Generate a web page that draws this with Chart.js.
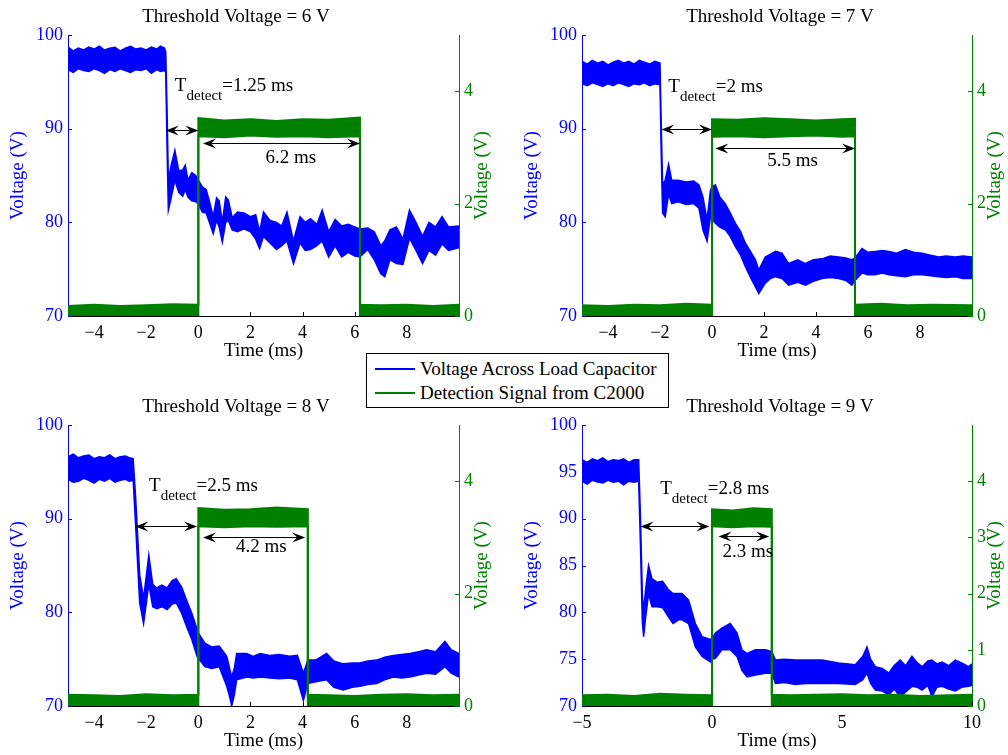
<!DOCTYPE html>
<html>
<head>
<meta charset="utf-8">
<script src="https://cdn.jsdelivr.net/npm/chart.js@4.4.0/dist/chart.umd.min.js"></script>
<style>
  body { margin: 0; background: #fff; overflow: hidden; }
  #fig { position: relative; width: 1008px; height: 755px; font-family: "Liberation Serif", "Times New Roman", serif; }
  #fig canvas { position: absolute; }
  .legend { position: absolute; left: 366px; top: 353px; width: 303px; height: 55px; box-sizing: border-box;
            border: 1px solid #000; background: #fff; z-index: 2; font-size: 19px; color: #000; }
  .legend .ln { position: absolute; left: 8px; width: 40px; height: 0; border-top: 2px solid; }
  .legend .tx { position: absolute; left: 53px; white-space: nowrap; line-height: 19px; }
</style>
</head>
<body>
<div id="fig">
  <canvas id="p1" width="504" height="390" style="left:0;top:0"></canvas>
  <canvas id="p2" width="504" height="390" style="left:504px;top:0"></canvas>
  <canvas id="p3" width="504" height="390" style="left:0;top:390px"></canvas>
  <canvas id="p4" width="504" height="390" style="left:504px;top:390px"></canvas>
  <div class="legend">
    <div class="ln" style="top:14px;border-color:#0000ff"></div>
    <div class="tx" style="top:5px">Voltage Across Load Capacitor</div>
    <div class="ln" style="top:38px;border-color:#008000"></div>
    <div class="tx" style="top:29px">Detection Signal from C2000</div>
  </div>
</div>
<script>
const BLUE = '#0000ff';
const GREEN = '#008000';
const FONT = '"Liberation Serif", "Times New Roman", serif';

// tick values
const xTicksEven = [-4, -2, 0, 2, 4, 6, 8];
const xTicksFive = [-5, 0, 5, 10];
const leftTicksTen = [70, 80, 90, 100];
const leftTicksFive = [70, 75, 80, 85, 90, 95, 100];
const rightTicksTwo = [0, 2, 4];
const rightTicksOne = [0, 1, 2, 3, 4];

// threshold 6 V : capacitor voltage band (upper / lower edge of the noisy trace)
const p1Time = [-5, -4.8, -4.6, -4.4, -4.2, -4.0, -3.8, -3.6, -3.4, -3.2, -3.0, -2.8, -2.6, -2.4, -2.2, -2.0, -1.8, -1.6, -1.45, -1.3,
  -1.25, -1.2, -1.15, -1.05, -0.9, -0.75, -0.6, -0.5, -0.4, -0.25, -0.1, 0,
  0.15, 0.3, 0.45, 0.57, 0.7, 0.8, 0.92, 1.05, 1.15, 1.3,
  1.5, 1.75, 2.0, 2.2, 2.35, 2.5, 2.75, 3.0, 3.2, 3.4,
  3.65, 3.9, 4.1, 4.3, 4.55, 4.75, 5.0, 5.25, 5.5, 5.75,
  6.0, 6.2, 6.5, 6.75, 7.0, 7.15, 7.35, 7.6, 7.85, 8.1,
  8.35, 8.6, 8.85, 9.1, 9.35, 9.6, 10];
const p1High = [98.7, 98.3, 98.6, 98.4, 98.7, 98.5, 98.8, 98.4, 98.6, 98.7, 98.3, 98.6, 98.8, 98.5, 98.6, 98.4, 98.7, 98.5, 98.8, 98.6,
  98.2, 92.0, 84.5, 86.0, 87.7, 85.5, 85.6, 86.1, 84.5, 85.3, 85.0, 84.5,
  83.8, 83.5, 82.0, 80.6, 82.6, 82.3, 80.0, 82.7, 82.4, 80.5,
  81.1, 81.0, 80.6, 80.8, 79.0, 81.1, 80.2, 80.0, 79.6, 81.1,
  78.0, 80.6, 80.0, 80.4, 79.8, 81.3, 79.0, 80.3, 79.6, 79.8,
  79.5, 79.3, 79.4, 79.0, 77.5, 78.0, 79.2, 79.5, 78.2, 81.3,
  80.0, 78.5, 80.0, 79.5, 80.6, 79.5, 79.6];
const p1Low = [96.3, 96.0, 96.4, 96.2, 96.1, 96.4, 96.2, 95.9, 96.3, 96.1, 96.4, 96.2, 96.0, 96.3, 96.2, 96.4, 95.9, 96.3, 96.1, 96.2,
  96.0, 88.0, 81.3, 82.5, 84.5, 83.2, 82.8, 83.5, 82.7, 82.3, 82.2, 82.0,
  81.1, 81.0, 79.8, 78.8, 80.2, 79.5, 77.9, 80.0, 80.2, 79.2,
  79.0, 79.3, 79.0, 78.2, 77.2, 78.5, 77.8, 77.1, 77.5, 78.0,
  75.6, 77.8, 77.0, 77.1, 77.5, 78.0, 76.3, 77.5, 76.3, 76.8,
  76.4, 76.3, 77.1, 76.0, 74.5, 74.2, 76.0, 75.6, 75.5, 78.3,
  77.0, 75.6, 77.0, 76.5, 77.7, 77.0, 77.3];
// detection signal band
const p1GreenTime = [-5, -4, -3, -2, -1, 0, 0, 1, 2, 3, 4, 5, 6.2, 6.2, 7, 8, 9, 10];
const p1GreenHigh = [0.18, 0.2, 0.18, 0.19, 0.21, 0.2, 3.52, 3.48, 3.5, 3.47, 3.5, 3.49, 3.53, 0.2, 0.19, 0.2, 0.18, 0.2];
const p1GreenLow = [0, 0, 0, 0, 0, 0, 3.2, 3.18, 3.21, 3.19, 3.2, 3.18, 3.2, 0, 0, 0, 0, 0];

// threshold 7 V
const p2Time = [-5, -4.8, -4.6, -4.4, -4.2, -4.0, -3.8, -3.6, -3.4, -3.2, -3.0, -2.8, -2.6, -2.4, -2.2,
  -2.0, -1.95, -1.9, -1.8, -1.67, -1.55, -1.3, -1.0, -0.7, -0.5, -0.35, -0.19, -0.06, 0,
  0.13, 0.3, 0.51, 0.7, 0.9, 1.1, 1.28, 1.5, 1.67, 1.8,
  2.05, 2.25, 2.44, 2.69, 2.95, 3.3, 3.59, 3.9, 4.23, 4.55,
  4.87, 5.15, 5.38, 5.5, 5.77, 6.0, 6.28, 6.55, 6.8, 7.1,
  7.44, 7.75, 8.08, 8.4, 8.72, 9.0, 9.36, 9.65, 10];
const p2High = [97.2, 96.9, 97.3, 97.0, 97.2, 96.8, 97.1, 97.3, 97.0, 97.2, 96.9, 97.3, 97.1, 96.9, 97.2,
  97.0, 90.0, 84.0, 84.5, 86.2, 84.5, 84.5, 84.3, 84.4, 84.0, 82.7, 80.3, 83.4, 83.8,
  84.0, 82.7, 82.0, 81.0, 79.9, 79.0, 77.8, 76.8, 76.0, 74.9,
  76.3, 76.6, 76.9, 76.7, 75.6, 76.0, 75.6, 76.0, 76.1, 76.4,
  76.3, 76.2, 76.0, 76.2, 77.2, 76.8, 76.9, 77.0, 76.9, 76.7,
  77.1, 76.8, 76.7, 76.5, 76.3, 76.4, 76.3, 76.4, 76.3];
const p2Low = [94.8, 94.6, 94.9, 94.7, 94.5, 94.8, 94.6, 94.9, 94.7, 94.5, 94.8, 94.7, 94.9, 94.6, 94.8,
  94.7, 87.0, 81.0, 80.6, 83.0, 82.0, 82.2, 81.9, 82.0, 81.5, 79.2, 78.0, 80.6, 80.3,
  79.9, 79.5, 79.2, 78.5, 77.4, 76.5, 75.3, 74.0, 73.1, 72.4,
  73.5, 74.0, 74.2, 74.0, 73.3, 73.6, 73.3, 73.7, 74.0, 74.1,
  74.0, 73.8, 73.3, 73.8, 74.6, 74.4, 74.4, 74.6, 74.4, 74.3,
  74.2, 74.4, 74.4, 74.3, 74.2, 74.1, 74.2, 74.0, 74.0];
const p2GreenTime = [-5, -4, -3, -2, -1, 0, 0, 1, 2, 3, 4, 5, 5.5, 5.5, 6.5, 7.5, 8.5, 10];
const p2GreenHigh = [0.19, 0.18, 0.2, 0.19, 0.22, 0.2, 3.5, 3.49, 3.52, 3.5, 3.48, 3.5, 3.51, 0.2, 0.22, 0.19, 0.2, 0.19];
const p2GreenLow = [0, 0, 0, 0, 0, 0, 3.19, 3.2, 3.18, 3.2, 3.21, 3.19, 3.2, 0, 0, 0, 0, 0];

// threshold 8 V
const p3Time = [-5, -4.8, -4.6, -4.4, -4.2, -4.0, -3.8, -3.6, -3.4, -3.2, -3.0, -2.8, -2.65,
  -2.5, -2.4, -2.25, -2.1, -1.9, -1.75, -1.6, -1.4, -1.2, -1.0, -0.85, -0.64, -0.45, -0.25, -0.05, 0,
  0.25, 0.51, 0.8, 1.09, 1.2, 1.28, 1.38, 1.47, 1.86, 2.1,
  2.37, 2.75, 3.1, 3.5, 3.8, 4.03, 4.2, 4.5, 4.92, 5.2,
  5.56, 5.9, 6.2, 6.5, 6.84, 7.15, 7.48, 7.8, 8.12, 8.45,
  8.76, 9.1, 9.46, 9.7, 10];
const p3High = [96.6, 96.9, 96.5, 96.7, 96.8, 96.4, 96.6, 96.5, 96.8, 96.4, 96.6, 96.7, 96.5,
  96.4, 92.0, 84.0, 81.5, 86.1, 83.0, 82.6, 82.9, 82.6, 83.4, 83.6, 82.7, 81.3, 79.9, 78.2, 77.8,
  76.7, 76.3, 76.4, 75.3, 74.0, 73.1, 74.0, 75.6, 75.6, 75.3,
  75.6, 75.4, 75.5, 75.3, 75.4, 73.5, 74.9, 74.9, 75.6, 74.8,
  74.5, 74.6, 74.6, 74.8, 74.9, 75.2, 75.4, 75.5, 75.6, 75.8,
  76.0, 75.8, 76.9, 76.0, 75.6];
const p3Low = [94.2, 93.9, 94.0, 94.3, 94.1, 93.8, 94.2, 94.0, 94.3, 93.9, 94.1, 94.2, 94.0,
  94.1, 89.0, 81.0, 78.8, 83.0, 80.6, 80.4, 80.6, 80.3, 80.9, 81.0, 79.9, 78.5, 77.1, 75.3, 75.1,
  74.2, 74.0, 74.2, 72.1, 71.0, 70.0, 71.2, 72.8, 73.1, 73.0,
  73.1, 73.0, 72.9, 73.0, 72.8, 70.6, 72.4, 72.6, 72.8, 72.0,
  71.7, 72.0, 72.1, 72.3, 72.4, 72.8, 73.1, 73.0, 73.1, 73.3,
  73.5, 73.4, 74.2, 73.5, 73.1];
const p3GreenTime = [-5, -4, -3, -2, -1, 0, 0, 1, 2, 3, 4.2, 4.2, 5, 6, 7, 8, 9, 10];
const p3GreenHigh = [0.2, 0.19, 0.18, 0.21, 0.19, 0.2, 3.52, 3.49, 3.5, 3.53, 3.5, 0.2, 0.19, 0.18, 0.2, 0.21, 0.19, 0.2];
const p3GreenLow = [0, 0, 0, 0, 0, 0, 3.2, 3.18, 3.2, 3.19, 3.2, 0, 0, 0, 0, 0, 0, 0];

// threshold 9 V
const p4Time = [-5, -4.8, -4.6, -4.4, -4.2, -4.0, -3.8, -3.6, -3.4, -3.2, -3.0,
  -2.82, -2.75, -2.68, -2.63, -2.55, -2.44, -2.31, -2.1, -1.9, -1.67, -1.5, -1.28, -1.15, -0.9, -0.64, -0.38, -0.06, 0,
  0.13, 0.38, 0.7, 0.96, 1.15, 1.35, 1.67, 2.05, 2.3, 2.44,
  2.8, 3.2, 3.59, 4.23, 4.87, 5.51, 5.8, 5.96, 6.1, 6.28,
  6.55, 6.8, 7.0, 7.24, 7.45, 7.69, 7.9, 8.08, 8.3, 8.46,
  8.65, 8.85, 9.1, 9.36, 9.6, 9.87, 10];
const p4High = [96.3, 96.0, 96.4, 96.2, 96.5, 96.1, 96.3, 96.2, 96.4, 96.0, 96.3,
  96.3, 90.0, 82.0, 80.0, 82.5, 85.0, 83.6, 83.2, 83.3, 82.4, 82.0, 82.0, 82.0, 81.3, 78.8, 77.4, 77.1, 77.2,
  77.8, 78.3, 78.8, 77.8, 76.0, 75.6, 76.0, 76.0, 75.8, 74.9,
  75.0, 74.9, 74.9, 74.9, 74.6, 74.4, 75.3, 76.3, 75.0, 74.2,
  74.0, 73.5, 74.3, 74.9, 74.3, 75.3, 74.6, 74.2, 74.8, 74.9,
  74.5, 74.7, 74.3, 74.9, 74.6, 74.2, 74.5];
const p4Low = [94.0, 93.7, 94.1, 93.9, 93.8, 94.1, 93.9, 94.0, 93.6, 94.0, 93.9,
  94.0, 87.0, 79.0, 77.4, 79.5, 82.0, 80.6, 80.6, 80.5, 79.5, 78.8, 79.2, 79.2, 78.8, 76.3, 75.3, 74.7, 75.0,
  75.1, 76.0, 76.0, 75.3, 73.8, 73.1, 73.3, 73.5, 73.5, 72.4,
  72.5, 72.3, 72.4, 72.4, 72.4, 72.3, 72.8, 73.5, 72.4, 71.7,
  71.6, 71.2, 71.8, 71.0, 71.5, 72.1, 72.0, 71.7, 72.2, 71.0,
  72.0, 72.1, 71.8, 71.6, 72.0, 72.1, 72.2];
const p4GreenTime = [-5, -4, -3, -2, -1, 0, 0, 0.8, 1.6, 2.3, 2.3, 3, 4, 5, 6, 7, 8, 10];
const p4GreenHigh = [0.19, 0.2, 0.18, 0.22, 0.2, 0.19, 3.5, 3.48, 3.52, 3.5, 0.2, 0.19, 0.2, 0.21, 0.19, 0.2, 0.18, 0.2];
const p4GreenLow = [0, 0, 0, 0, 0, 0, 3.2, 3.18, 3.2, 3.19, 0, 0, 0, 0, 0, 0, 0, 0];

function xy(ts, vs) {
      return ts.map((t, i) => ({x: t, y: vs[i]}));
}

function minus(v) {
      return String(v).replace('-', '\u2212');
}

function band(ts, vs, color, axis, fill, width) {
      return {
            data: xy(ts, vs), yAxisID: axis, borderColor: color, backgroundColor: color,
            borderWidth: width, pointRadius: 0, tension: 0, fill: fill
      };
}

// double headed arrow with notched heads
function arrow(ctx, x1, x2, y) {
      ctx.strokeStyle = '#000';
      ctx.fillStyle = '#000';
      ctx.lineWidth = 1;
      ctx.beginPath();
      ctx.moveTo(x1 + 6, y);
      ctx.lineTo(x2 - 6, y);
      ctx.stroke();
      [[x1, 1], [x2, -1]].forEach(([x, d]) => {
            ctx.beginPath();
            ctx.moveTo(x, y);
            ctx.lineTo(x + d * 13, y - 5);
            ctx.lineTo(x + d * 8, y);
            ctx.lineTo(x + d * 13, y + 5);
            ctx.closePath();
            ctx.fill();
      });
}

const decor = {
      id: 'decor',
      beforeDatasetsDraw(chart, args, o) {
            const {ctx, chartArea: a, scales} = chart;
            ctx.save();
            ctx.lineWidth = 1;
            const tick = (x1, y1, x2, y2, c) => {
                  ctx.strokeStyle = c;
                  ctx.beginPath(); ctx.moveTo(x1, y1); ctx.lineTo(x2, y2); ctx.stroke();
            };
            scales.x.ticks.forEach(t => {
                  const x = Math.round(scales.x.getPixelForValue(t.value)) + 0.5;
                  tick(x, a.bottom, x, a.bottom - 4, '#000');
            });
            scales.yL.ticks.forEach(t => {
                  const y = Math.round(scales.yL.getPixelForValue(t.value)) + 0.5;
                  tick(a.left, y, a.left + 4, y, BLUE);
            });
            scales.yR.ticks.forEach(t => {
                  const y = Math.round(scales.yR.getPixelForValue(t.value)) + 0.5;
                  tick(a.right, y, a.right - 4, y, GREEN);
            });
            ctx.restore();
      },
      afterDatasetsDraw(chart, args, o) {
            const {ctx, scales} = chart;
            const px = v => scales.x.getPixelForValue(v);
            const py = v => scales.yL.getPixelForValue(v);
            ctx.save();
            o.arrows.forEach(([t1, t2, v]) => arrow(ctx, px(t1), px(t2), Math.round(py(v)) + 0.5));
            ctx.fillStyle = '#000';
            ctx.textBaseline = 'alphabetic';
            // T_detect label
            let x = px(o.detectAt[0]);
            const y = py(o.detectAt[1]);
            ctx.textAlign = 'left';
            ctx.font = '19px ' + FONT;
            ctx.fillText('T', x, y);
            x += ctx.measureText('T').width;
            ctx.font = '15px ' + FONT;
            ctx.fillText('detect', x, y + 9);
            x += ctx.measureText('detect').width;
            ctx.font = '19px ' + FONT;
            ctx.fillText('=' + o.detect + ' ms', x, y);
            // pulse width label
            ctx.textAlign = 'center';
            ctx.fillText(o.width + ' ms', px(o.widthAt[0]), py(o.widthAt[1]));
            ctx.restore();
      },
      afterDraw(chart, args, o) {
            const {ctx, chartArea: a} = chart;
            ctx.save();
            ctx.font = '19px ' + FONT;
            ctx.textAlign = 'center';
            ctx.textBaseline = 'alphabetic';
            ctx.fillStyle = '#000';
            ctx.fillText(o.title, o.titleX, 22);
            ctx.fillText('Time (ms)', (a.left + a.right) / 2, a.bottom + 40);
            const yc = (a.top + a.bottom) / 2;
            [[o.leftLabelX, BLUE], [o.rightLabelX, GREEN]].forEach(([lx, c]) => {
                  ctx.save();
                  ctx.translate(lx, yc);
                  ctx.rotate(-Math.PI / 2);
                  ctx.fillStyle = c;
                  ctx.fillText('Voltage (V)', 0, 0);
                  ctx.restore();
            });
            ctx.restore();
      }
};

function createPanel(id, p) {
      const element = document.getElementById(id);
      const tickFont = {family: FONT, size: 18};
      new Chart(element, {
            type: 'line',
            data: {
                  datasets: [
                        band(p.gTime, p.gHigh, GREEN, 'yR', false, 2),
                        band(p.gTime, p.gLow, GREEN, 'yR', '-1', 2),
                        band(p.time, p.high, BLUE, 'yL', false, 1.5),
                        band(p.time, p.low, BLUE, 'yL', '-1', 1.5)
                  ]
            },
            options: {
                  responsive: false,
                  animation: false,
                  events: [],
                  layout: {padding: {top: 35, left: 0, right: 0, bottom: 0}},
                  plugins: {
                        legend: {display: false},
                        tooltip: {enabled: false},
                        decor: p.decor
                  },
                  scales: {
                        x: {
                              type: 'linear', min: -5, max: 10,
                              afterBuildTicks: s => { s.ticks = p.xTicks.map(v => ({value: v})); },
                              afterFit: s => { s.height = 74; },
                              grid: {display: false, drawTicks: false},
                              border: {display: true, color: '#000', width: 1},
                              ticks: {color: '#000', font: tickFont, padding: 6, maxRotation: 0, autoSkip: false,
                                    callback: v => minus(v)}
                        },
                        yL: {
                              type: 'linear', position: 'left', min: 70, max: 100,
                              afterBuildTicks: s => { s.ticks = p.leftTicks.map(v => ({value: v})); },
                              afterFit: s => { s.width = p.left; },
                              grid: {display: false, drawTicks: false},
                              border: {display: true, color: BLUE, width: 1},
                              ticks: {color: BLUE, font: tickFont, padding: 5}
                        },
                        yR: {
                              type: 'linear', position: 'right', min: 0, max: 5,
                              afterBuildTicks: s => { s.ticks = p.rightTicks.map(v => ({value: v})); },
                              afterFit: s => { s.width = 504 - p.right; },
                              grid: {display: false, drawTicks: false},
                              border: {display: true, color: GREEN, width: 1},
                              ticks: {color: GREEN, font: tickFont, padding: 5}
                        }
                  }
            },
            plugins: [decor]
      });
}

createPanel('p1', {
      time: p1Time, high: p1High, low: p1Low,
      gTime: p1GreenTime, gHigh: p1GreenHigh, gLow: p1GreenLow,
      xTicks: xTicksEven, leftTicks: leftTicksTen, rightTicks: rightTicksTwo,
      left: 68, right: 459,
      decor: {
            title: 'Threshold Voltage = 6 V', titleX: 236, leftLabelX: 23, rightLabelX: 487,
            detect: '1.25', detectAt: [-0.9, 94.0], width: '6.2', widthAt: [3.55, 86.3],
            arrows: [[-1.25, 0, 89.9], [0.18, 6.2, 88.5]]
      }
});

createPanel('p2', {
      time: p2Time, high: p2High, low: p2Low,
      gTime: p2GreenTime, gHigh: p2GreenHigh, gLow: p2GreenLow,
      xTicks: xTicksEven, leftTicks: leftTicksTen, rightTicks: rightTicksTwo,
      left: 78, right: 468,
      decor: {
            title: 'Threshold Voltage = 7 V', titleX: 276, leftLabelX: 33, rightLabelX: 496,
            detect: '2', detectAt: [-1.68, 93.9], width: '5.5', widthAt: [3.1, 86.0],
            arrows: [[-1.95, 0, 90.0], [0.13, 5.5, 87.9]]
      }
});

createPanel('p3', {
      time: p3Time, high: p3High, low: p3Low,
      gTime: p3GreenTime, gHigh: p3GreenHigh, gLow: p3GreenLow,
      xTicks: xTicksEven, leftTicks: leftTicksTen, rightTicks: rightTicksTwo,
      left: 68, right: 459,
      decor: {
            title: 'Threshold Voltage = 8 V', titleX: 236, leftLabelX: 23, rightLabelX: 487,
            detect: '2.5', detectAt: [-1.89, 93.0], width: '4.2', widthAt: [2.42, 86.4],
            arrows: [[-2.42, -0.05, 89.25], [0.18, 4.1, 88.0]]
      }
});

createPanel('p4', {
      time: p4Time, high: p4High, low: p4Low,
      gTime: p4GreenTime, gHigh: p4GreenHigh, gLow: p4GreenLow,
      xTicks: xTicksFive, leftTicks: leftTicksFive, rightTicks: rightTicksOne,
      left: 78, right: 468,
      decor: {
            title: 'Threshold Voltage = 9 V', titleX: 276, leftLabelX: 33, rightLabelX: 496,
            detect: '2.8', detectAt: [-1.99, 92.6], width: '2.3', widthAt: [1.38, 85.9],
            arrows: [[-2.75, -0.1, 89.25], [0.25, 2.2, 88.2]]
      }
});
</script>
</body>
</html>
